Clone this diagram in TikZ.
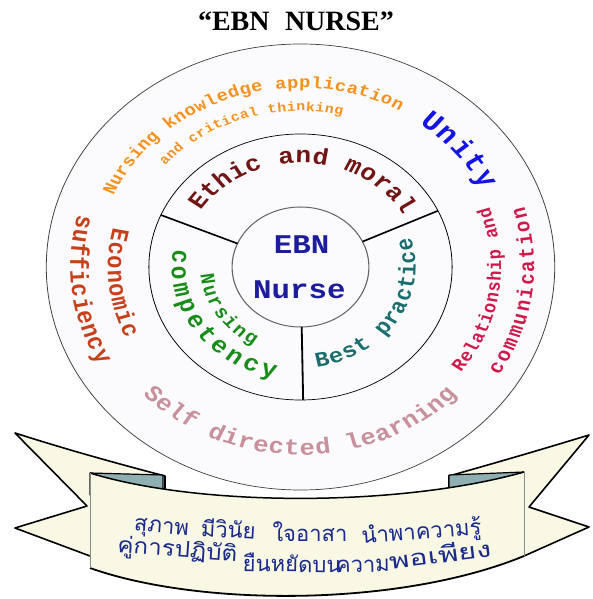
\documentclass[tikz,border=0pt]{standalone}
\usepackage{fontspec}
\usetikzlibrary{decorations.text}
\newfontfamily\tw{Liberation Mono}
\newfontfamily\ttl{Liberation Serif}
\newfontfamily\thai[Script=Thai]{Loma}
\newfontfamily\thaiwide[Script=Thai,FakeStretch=1.4]{Loma}
\newfontfamily\thaimid[Script=Thai,FakeStretch=1.1]{Loma}
\definecolor{cOrange}{HTML}{F5921E}
\definecolor{cBlue}{HTML}{1414E6}
\definecolor{cMaroon}{HTML}{701414}
\definecolor{cNavy}{HTML}{1C1C9C}
\definecolor{cGreen}{HTML}{1A8C1A}
\definecolor{cTeal}{HTML}{1A6E6E}
\definecolor{cRust}{HTML}{C8401A}
\definecolor{cCrimson}{HTML}{D0184A}
\definecolor{cRose}{HTML}{C8909A}
\definecolor{cThai}{HTML}{1A2A8A}
\definecolor{ringfill}{HTML}{FBFBFE}
\definecolor{cream}{HTML}{F8F8E4}
\definecolor{foldc}{HTML}{8FAFB2}
\newcommand\arctext[6]{% color, size, radius, start, end, text
  \def\curfont{\tw\bfseries\fontsize{#2}{#2}\selectfont}%
  \path[decorate,decoration={text along path,text align={fit to path},text color=#1,text={|\curfont|#6}}]
    (#4:#3) arc[start angle=#4,end angle=#5,radius=#3];}
\tikzset{
  ringline/.style={draw=black!75,line width=0.7pt},
  divider/.style={draw=black,line width=1.6pt},
  tailshape/.style={fill=cream,draw=black,line width=1.6pt,line join=round},
  foldshape/.style={fill=foldc,draw=black,line width=1.2pt,line join=round},
  thaiword/.style={text=cThai,font=\thai\fontsize{22}{22}\selectfont,anchor=base,inner sep=0pt},
}
\begin{document}
\begin{tikzpicture}[x=1pt,y=1pt]
\useasboundingbox (-300.5,-332) rectangle (291.5,267);
% title
\node[font=\ttl\bfseries\fontsize{28}{28}\selectfont,anchor=base] (title) at (-4.5,236) {“EBN\hspace{0.55em}NURSE”};
% rings (stretched horizontally)
\begin{scope}[transform canvas={xscale=1.14}]
  \filldraw[fill=ringfill,ringline] (0,0) circle[radius=223];
  \draw[ringline,draw=black] (0,0) circle[radius=133];
  \draw[draw=black!60,line width=1pt] (0,0) circle[radius=60];
  \draw[divider] (157:60) -- (157:133);
  \draw[divider] (25:60) -- (25:133);
  \draw[divider] (-89:60) -- (-89:133);
  \node[text=cNavy,font=\tw\bfseries\fontsize{27}{27}\selectfont] (ebn) at (1,22) {EBN};
  \node[text=cNavy,font=\tw\bfseries\fontsize{27}{27}\selectfont] (nurse) at (-1,-23) {Nurse};
  \arctext{cOrange}{16.5}{179}{156.5}{60.8}{Nursing knowledge application}
  \arctext{cOrange}{13}{156}{139.6}{76.4}{and critical thinking}
  \arctext{cBlue}{27}{177}{54}{26}{Unity}
  \arctext{cMaroon}{23}{104}{147.4}{30}{Ethic and moral}
  \arctext{cTeal}{21}{101}{-82}{17}{Best practice}
  \arctext{cGreen}{18}{88}{185}{242}{Nursing}
  \arctext{cGreen}{23}{113}{171}{258.5}{competency}
  \arctext{cRust}{22}{169}{166.5}{205}{Economic}
  \arctext{cRust}{22.5}{202}{165}{209}{sufficiency}
  \arctext{cCrimson}{17}{176}{-37}{20}{Relationship and}
  \arctext{cCrimson}{19}{205}{-32}{17}{communication}
  \arctext{cRose}{22.5}{188}{222.5}{317}{Self directed learning}
\end{scope}
% banner in pixel coordinates
\begin{scope}[shift={(-300.5,267)},yscale=-1]
  \filldraw[tailshape] (15,433) .. controls (65,449) and (115,463) .. (165,476) -- (165,548) -- (90,556) -- (15,528) -- (87,506) -- cycle;
  \filldraw[tailshape] (589,435) .. controls (540,450) and (495,463) .. (449,476) -- (449,548) -- (524,556) -- (589,527) -- (529,507) -- cycle;
  \filldraw[foldshape] (90,473) -- (163,475) -- (163,495) -- (90,495) -- cycle;
  \filldraw[foldshape] (524,472) -- (449,475) -- (449,495) -- (524,495) -- cycle;
  \fill[cream] (90,473) .. controls (200,507) and (400,507) .. (524,472) -- (524,556) .. controls (400,607) and (200,607) .. (90,568) -- cycle;
  \draw[black,line width=1.5pt] (90,473) .. controls (200,507) and (400,507) .. (524,472);
  \draw[black,line width=1.8pt] (524,556) .. controls (400,607) and (200,607) .. (90,568);
  \draw[black!45,line width=0.8pt] (90,473) -- (90,568);
  \draw[black!45,line width=0.8pt] (524,472) -- (524,556);
  \node[thaiword,rotate=-5] (w1) at (161,533) {สุภาพ};
  \node[thaiword,rotate=-3] (w2) at (228,538) {มีวินัย};
  \node[thaiword] (w3) at (310,541) {ใจอาสา};
  \node[thaiword,rotate=4] (w4) at (422,539) {นำพาความรู้};
  \node[thaiword,font=\thaimid\fontsize{22}{22}\selectfont,rotate=-4] (w5) at (177,557) {คู่การปฏิบัติ};
  \node[thaiword,rotate=-1] (w6) at (292,572) {ยืนหยัดบน};
  \node[thaiword,rotate=1] (w7) at (363,572) {ความ};
  \node[thaiword,font=\thaiwide\fontsize{22}{22}\selectfont,rotate=7] (w8) at (441,563) {พอเพียง};
\end{scope}
\end{tikzpicture}
\end{document}
